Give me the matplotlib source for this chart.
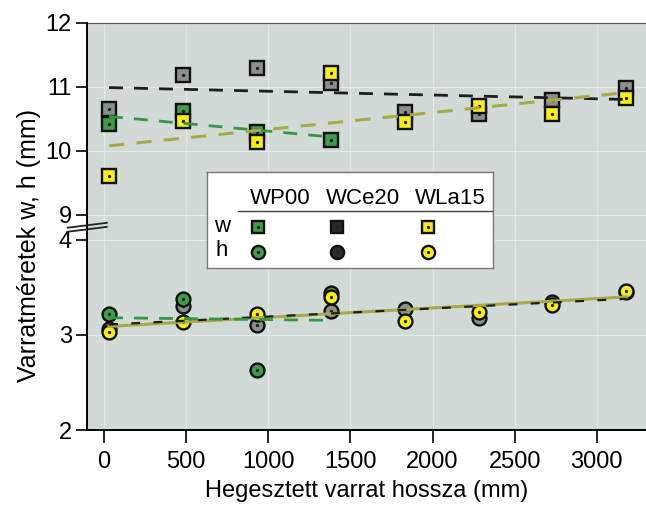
import numpy as np
import matplotlib.pyplot as plt

plt.rcParams['font.family'] = ['Liberation Sans', 'DejaVu Sans']

# varrat hossza (mm)
hossz = [30, 480, 930, 1380, 1830, 2280, 2730, 3180]

# w - varratszelesseg
w_wp00 = [10.42, 10.62, 10.30, 10.17]          # csak az elso 4 hossznal
w_wce20 = [10.66, 11.18, 11.30, 11.06, 10.61, 10.57, 10.80, 10.99]
w_wla15 = [9.60, 10.46, 10.14, 11.22, 10.45, 10.70, 10.57, 10.82]

# h - varratmagassag
h_wp00 = [3.22, 3.38, 2.63, 3.44]
h_wce20 = [3.06, 3.30, 3.10, 3.25, 3.27, 3.18, 3.35, 3.45]
h_wla15 = [3.03, 3.14, 3.22, 3.40, 3.15, 3.24, 3.32, 3.46]

labels = ['WP00', 'WCe20', 'WLa15']
fills = ['#3f9c4a', '#8b908f', '#f6ec1e']
fit_colors = ['#2f9a3f', '#1e1e1e', '#a8aa48']
bg = '#d2dad8'

fig = plt.figure(figsize=(6.46, 5.11), dpi=100)
ax_top = fig.add_axes([0.135, 0.556, 0.865, 0.399])
ax_bot = fig.add_axes([0.135, 0.1585, 0.865, 0.3975])


def pont(ax, x, y, fill, marker, ms, z):
    ax.plot(x, y, linestyle='none', marker=marker, ms=ms, mfc=fill, mec='#111111',
            mew=1.7, zorder=z)
    ax.plot(x, y, linestyle='none', marker='o', ms=2.4, mfc='#222222', mec='none', zorder=z)


def trend(ax, x, y, color, ls, lw):
    k, b = np.polyfit(x, y, 1)
    xx = np.array([min(x), max(x)])
    ax.plot(xx, k * xx + b, color=color, ls=ls, lw=lw, zorder=6)


for ax in (ax_top, ax_bot):
    ax.set_facecolor(bg)
    ax.set_xlim(-103, 3300)
    ax.grid(True, color='#e3e9e7', lw=0.9)
    ax.set_axisbelow(True)
    for s in ('top', 'right'):
        ax.spines[s].set_visible(False)
    ax.spines['left'].set_linewidth(1.4)
    ax.tick_params(axis='y', direction='out', length=8, width=1.2, labelsize=17, pad=3)

# felso resz: w
pont(ax_top, hossz, w_wce20, fills[1], 's', 10, 3)
pont(ax_top, hossz[:4], w_wp00, fills[0], 's', 10, 4)
pont(ax_top, hossz, w_wla15, fills[2], 's', 10, 5)
trend(ax_top, hossz, w_wce20, fit_colors[1], (0, (5, 4)), 2.0)
trend(ax_top, hossz[:4], w_wp00, fit_colors[0], (0, (5, 4)), 2.0)
trend(ax_top, hossz, w_wla15, fit_colors[2], (0, (5, 4)), 2.2)
ax_top.set_ylim(8.81, 12)
ax_top.set_yticks([9, 10, 11, 12])
ax_top.spines['bottom'].set_visible(False)
ax_top.tick_params(axis='x', bottom=False, labelbottom=False)
ax_top.plot([-103, 3300], [12, 12], color='#555555', lw=0.8, clip_on=False)

# also resz: h
pont(ax_bot, hossz, h_wce20, fills[1], 'o', 10, 3)
pont(ax_bot, hossz[:4], h_wp00, fills[0], 'o', 10, 4)
pont(ax_bot, hossz, h_wla15, fills[2], 'o', 10, 5)
trend(ax_bot, hossz, h_wla15, fit_colors[2], '-', 2.2)
trend(ax_bot, hossz, h_wce20, fit_colors[1], (0, (4, 6)), 1.6)
trend(ax_bot, hossz[:4], h_wp00, fit_colors[0], (0, (5, 4)), 2.0)
ax_bot.set_ylim(2, 4.137)
ax_bot.set_yticks([2, 3, 4])
ax_bot.spines['bottom'].set_linewidth(1.4)
ax_bot.set_xticks([0, 500, 1000, 1500, 2000, 2500, 3000])
ax_bot.tick_params(axis='x', direction='out', length=9, width=1.2, labelsize=17, pad=6)
ax_bot.set_xlabel('Hegesztett varrat hossza (mm)', fontsize=17, labelpad=5)

# tengelytores jele
for dy in (-0.012, 0.008):
    ax_bot.plot([-0.035, 0.035], [1 + dy - 0.012, 1 + dy + 0.012], transform=ax_bot.transAxes,
                color='#222222', lw=1.3, clip_on=False, zorder=10)

fig.text(0.045, 0.52, 'Varratméretek w, h (mm)', rotation=90, fontsize=18,
         ha='center', va='center')

# tablazatos jelmagyarazat
lg = fig.add_axes([207 / 646, 1 - 268 / 511, 286 / 646, 96 / 511])
lg.set_xlim(207, 493)
lg.set_ylim(268, 172)
lg.set_facecolor('white')
for s in lg.spines.values():
    s.set_color('#777777')
    s.set_linewidth(1.0)
lg.set_xticks([])
lg.set_yticks([])
lg.set_zorder(20)
for lab, cx in zip(labels, [280, 363, 450]):
    lg.text(cx, 198, lab, ha='center', va='center', fontsize=16)
lg.plot([238, 493], [211, 211], color='#444444', lw=1.0)
lg.text(222, 226, 'w', ha='center', va='center', fontsize=16)
lg.text(222, 251, 'h', ha='center', va='center', fontsize=16)
for cx, fc in zip([258, 337, 428], fills):
    pont(lg, [cx], [227], fc if fc != fills[1] else '#2a2a2a', 's', 9, 3)
    pont(lg, [cx], [252], fc if fc != fills[1] else '#2a2a2a', 'o', 9.5, 3)

fig.savefig('out.png', dpi=100)
